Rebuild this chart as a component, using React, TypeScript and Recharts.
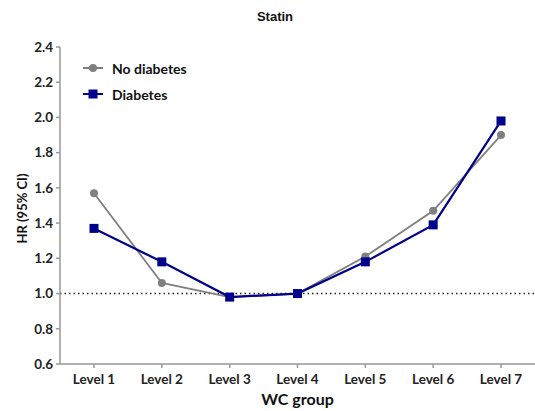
import { LineChart, Line, XAxis, YAxis, ReferenceLine } from "recharts"

const levels = ["Level 1", "Level 2", "Level 3", "Level 4", "Level 5", "Level 6", "Level 7"]
const noDiabetes = [1.57, 1.06, 0.98, 1.0, 1.21, 1.47, 1.9]
const diabetes = [1.37, 1.18, 0.98, 1.0, 1.18, 1.39, 1.98]
const yTicks = [0.6, 0.8, 1.0, 1.2, 1.4, 1.6, 1.8, 2.0, 2.2, 2.4]

const data = levels.map((level, i) => ({
  level,
  noDiabetes: noDiabetes[i],
  diabetes: diabetes[i],
}))

const GRAY = "#808080"
const NAVY = "#00008b"
const AXIS = "#999999"
const FONT = "Lato, 'Open Sans', sans-serif"

function SquareDot(props: any) {
  const { cx, cy, index } = props
  if (cx == null || cy == null) return null
  return <rect key={`sq-${index}`} x={cx - 4.5} y={cy - 4.5} width={9} height={9} fill={NAVY} />
}

function LegendBox() {
  const items = [
    { name: "No diabetes", color: GRAY, square: false },
    { name: "Diabetes", color: NAVY, square: true },
  ]
  return (
    <div
      style={{
        position: "absolute",
        top: 55,
        left: 83,
        fontFamily: FONT,
        fontWeight: 700,
        fontSize: 14,
        color: "#111",
      }}
    >
      {items.map((it) => (
        <div key={it.name} style={{ display: "flex", alignItems: "center", height: 26 }}>
          <svg width={20} height={12} style={{ marginRight: 9 }}>
            <line x1={0} y1={6} x2={20} y2={6} stroke={it.color} strokeWidth={2} />
            {it.square ? (
              <rect x={5.5} y={1.5} width={9} height={9} fill={it.color} />
            ) : (
              <circle cx={10} cy={6} r={4} fill={it.color} />
            )}
          </svg>
          <span>{it.name}</span>
        </div>
      ))}
    </div>
  )
}

export default function App() {
  return (
    <div style={{ position: "relative", width: 535, height: 411, background: "#fff" }}>
      <style>{`body{margin:0}`}</style>
      <div
        style={{
          position: "absolute",
          top: 9,
          left: 0,
          width: 550,
          textAlign: "center",
          fontFamily: "'Liberation Sans', Arial, sans-serif",
          fontWeight: 700,
          fontSize: 13,
          color: "#111",
        }}
      >
        Statin
      </div>
      <LineChart
        width={535}
        height={411}
        data={data}
        margin={{ top: 47, right: 0, left: 0, bottom: 0 }}
      >
        <XAxis
          dataKey="level"
          height={47}
          padding={{ left: 34, right: 34 }}
          stroke={AXIS}
          strokeWidth={1.5}
          tickSize={4}
          tickMargin={6}
          tick={{ fill: "#222", fontSize: 13.5, fontWeight: 700, fontFamily: FONT }}
          label={{
            value: "WC group",
            position: "insideBottom",
            offset: 6,
            fill: "#111",
            fontSize: 16,
            fontWeight: 700,
            fontFamily: FONT,
          }}
        />
        <YAxis
          type="number"
          domain={[0.6, 2.4]}
          ticks={yTicks}
          width={60}
          stroke={AXIS}
          strokeWidth={1.5}
          tickSize={4}
          tickMargin={3}
          interval={0}
          tickFormatter={(v: number) => v.toFixed(1)}
          tick={{ fill: "#222", fontSize: 13.5, fontWeight: 700, fontFamily: FONT }}
          label={{
            value: "HR (95% CI)",
            angle: -90,
            position: "insideLeft",
            offset: 22,
            dy: 38,
            fill: "#111",
            fontSize: 13,
            fontWeight: 700,
            fontFamily: FONT,
          }}
        />
        <ReferenceLine y={1.0} stroke="#222" strokeWidth={1.5} strokeDasharray="1.5 3" />
        <Line
          dataKey="noDiabetes"
          name="No diabetes"
          stroke={GRAY}
          strokeWidth={1.8}
          dot={{ r: 4, fill: GRAY, stroke: GRAY, strokeWidth: 0 }}
          isAnimationActive={false}
        />
        <Line
          dataKey="diabetes"
          name="Diabetes"
          stroke={NAVY}
          strokeWidth={2.2}
          dot={<SquareDot />}
          isAnimationActive={false}
        />
      </LineChart>
      <LegendBox />
    </div>
  )
}
